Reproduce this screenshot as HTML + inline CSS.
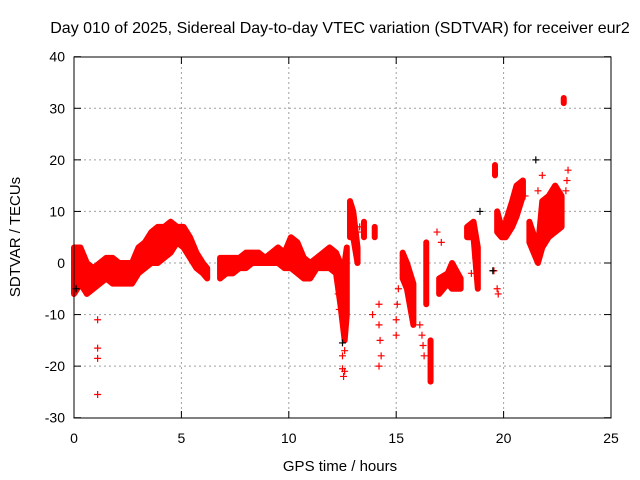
<!DOCTYPE html>
<html><head><meta charset="utf-8">
<style>
body{margin:0;background:#fff;}
svg{display:block;font-family:"Liberation Sans",sans-serif;}
</style></head>
<body>
<svg id="chart" width="640" height="480" viewBox="0 0 640 480" xmlns="http://www.w3.org/2000/svg">
<rect width="640" height="480" fill="#fff"/>
<text x="340" y="33" font-size="16" text-anchor="middle">Day 010 of 2025, Sidereal Day-to-day VTEC variation (SDTVAR) for receiver eur2</text>
<g id="grid"></g>
<g id="ticks"></g>
<g id="marks"></g>
<rect x="74" y="57" width="537" height="361" fill="none" stroke="#000" stroke-width="1"/>
<text x="340" y="471" font-size="15" text-anchor="middle">GPS time / hours</text>
<text x="0" y="0" font-size="15" text-anchor="middle" transform="translate(20,237) rotate(-90)">SDTVAR / TECUs</text>
</svg>
<script>
const xTicks=[0,5,10,15,20,25];
const yTicks=[-30,-20,-10,0,10,20,30,40];
// dense band samples: hour, max, min, cluster id
const bandT=[0,0.3,0.6,0.9,1.2,1.5,1.8,2.1,2.4,2.7,3.0,3.3,3.6,3.9,4.2,4.5,4.8,5.1,5.4,5.7,6.0,6.2,6.8,7.1,7.4,7.7,8.0,8.3,8.6,8.9,9.2,9.5,9.8,10.1,10.4,10.7,11.0,11.3,11.6,11.9,12.2,12.4,12.6,12.7,12.85,13.0,13.2,13.5,14.0,15.3,15.5,15.8,16.4,16.6,17.0,17.4,17.6,18.0,18.3,18.6,18.8,19.6,19.7,19.9,20.1,20.4,20.6,20.9,21.2,21.6,21.8,22.1,22.4,22.7,22.8];
const bandMax=[3,3,0,-1,0,1,1,0,0,0,3,4,6,7,7,8,7,7,5,2,0,-1,1,1,1,1,2,2,2,1,2,3,2,5,4,1,0,1,2,3,2,0,0,3,12,10,3,8,7,2,0,-4,4,-15,-3,-2,0,-3,7,8,3,19,10,7,8,12,15,16,8,3,12,13,15,13,32];
const bandMin=[-6,-4,-6,-5,-4,-3,-4,-4,-4,-4,-2,-1,0,0,1,2,4,3,1,-1,-2,-3,-3,-2,-2,-1,-1,0,0,0,0,0,-1,-1,-2,-3,-3,-1,-1,-1,-2,-8,-15,-10,5,5,0,5,5,-3,-5,-12,-8,-23,-6,-4,-5,-5,5,5,-5,17,6,5,5,7,9,13,4,0,3,5,6,7,31];
const bandSeg=[0,0,0,0,0,0,0,0,0,0,0,0,0,0,0,0,0,0,0,0,0,0,1,1,1,1,1,1,1,1,1,1,1,1,1,1,1,1,1,1,1,1,1,1,2,2,2,3,4,5,5,5,6,7,8,8,8,8,9,9,9,10,11,11,11,11,11,11,12,12,12,12,12,12,13];
// scattered red points
const ptT=[1.1,1.1,1.1,1.1,12.5,12.5,12.55,12.6,12.6,14.2,14.2,14.25,14.3,14.2,13.9,15.0,15.0,15.05,15.1,16.1,16.2,16.25,16.3,16.9,17.1,18.5,18.7,18.75,19.55,19.7,19.75,21.0,21.6,21.8,22.9,22.95,23.0,12.3,12.35,13.3,13.4];
const ptV=[-11,-16.5,-18.5,-25.5,-18,-20.5,-22,-21,-17,-8,-12,-15,-18,-20,-10,-11,-14,-8,-5,-12,-14,-16,-18,6,4,-2,1,-1,-1.5,-5,-6,13,14,17,14,16,18,-6,-9,7,6];
// black points (second series)
const blkT=[21.5,12.5,19.5,18.9,0.1];
const blkV=[20,-15.5,-1.5,10,-5];

const X=t=>74+t*537/25;
const Y=v=>263-v*361/70;
const NS='http://www.w3.org/2000/svg';
function mk(tag,attrs,parent){const e=document.createElementNS(NS,tag);for(const k in attrs)e.setAttribute(k,attrs[k]);parent.appendChild(e);return e;}
const grid=document.getElementById('grid'),ticks=document.getElementById('ticks'),marks=document.getElementById('marks');
xTicks.forEach(t=>{
  if(t>0&&t<25){const l=mk('line',{x1:X(t),x2:X(t),y1:57,y2:418,stroke:'#a0a0a0','stroke-dasharray':'2,3'},grid);
  
  }
  mk('line',{x1:X(t),x2:X(t),y1:418,y2:411,stroke:'#000'},ticks);
  mk('line',{x1:X(t),x2:X(t),y1:57,y2:64,stroke:'#000'},ticks);
  const tx=mk('text',{x:X(t),y:443,'font-size':14,'text-anchor':'middle'},ticks);tx.textContent=t;
  
  
});
yTicks.forEach(v=>{
  if(v>-30&&v<40){const l=mk('line',{x1:74,x2:611,y1:Y(v),y2:Y(v),stroke:'#a0a0a0','stroke-dasharray':'2,3'},grid);
  
  }
  mk('line',{x1:74,x2:81,y1:Y(v),y2:Y(v),stroke:'#000'},ticks);
  mk('line',{x1:611,x2:604,y1:Y(v),y2:Y(v),stroke:'#000'},ticks);
  const tx=mk('text',{x:65,y:Y(v)+5,'font-size':14,'text-anchor':'end'},ticks);tx.textContent=v;
  
  
});
function plus(t,v,c){
  const g=mk('path',{d:`M${X(t)-3.5},${Y(v)}h7M${X(t)},${Y(v)-3.5}v7`,stroke:c,'stroke-width':1.2,fill:'none'},marks);
  
  
}
let seg=[];
function flush(){
  if(!seg.length)return;
  const up=seg.map(i=>X(bandT[i])+','+Y(bandMax[i]));
  const lo=seg.slice().reverse().map(i=>X(bandT[i])+','+Y(bandMin[i]));
  const p=mk('polygon',{points:up.concat(lo).join(' '),fill:'#ff0000',stroke:'#ff0000','stroke-width':6,'stroke-linejoin':'round'},marks);
  
  
  seg=[];
}
bandT.forEach((t,i)=>{
  if(seg.length&&bandSeg[i]!==bandSeg[seg[seg.length-1]])flush();
  seg.push(i);
});
flush();
ptT.forEach((t,i)=>plus(t,ptV[i],'#ff0000'));
blkT.forEach((t,i)=>plus(t,blkV[i],'#000'));
</script>
</body></html>
